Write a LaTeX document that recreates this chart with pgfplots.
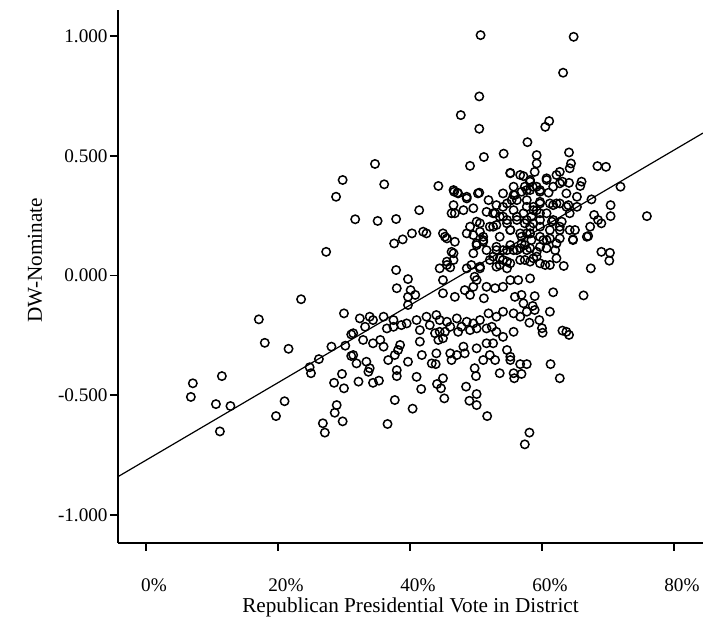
\documentclass[border=0pt]{standalone}
\usepackage{fontspec}
\setmainfont{Liberation Serif}
\usepackage{pgfplots}
\usepackage{pgfplotstable}
\pgfplotsset{compat=1.18}
\usetikzlibrary{calc}

% districts: Republican presidential vote (%) vs DW-Nominate score
\pgfplotstableread{
x y
27.3 0.099
23.5 -0.099
30.0 -0.158
17.1 -0.183
18.0 -0.281
21.6 -0.306
31.1 -0.246
28.1 -0.297
30.2 -0.293
26.2 -0.349
24.8 -0.383
25.0 -0.408
7.1 -0.450
6.8 -0.507
11.5 -0.420
10.6 -0.537
12.8 -0.545
11.2 -0.651
21.0 -0.525
19.7 -0.587
29.7 -0.411
28.5 -0.448
30.0 -0.471
28.9 -0.541
28.6 -0.573
26.8 -0.617
27.1 -0.656
29.8 -0.609
31.1 -0.336
29.8 0.399
28.8 0.329
50.7 1.004
50.5 0.748
47.7 0.670
50.5 0.613
57.8 0.557
54.2 0.509
51.2 0.495
49.1 0.458
34.7 0.466
36.1 0.381
44.3 0.374
46.7 0.350
47.2 0.346
50.5 0.346
55.2 0.429
56.7 0.420
57.2 0.415
59.2 0.503
58.9 0.433
59.2 0.468
58.2 0.392
58.6 0.371
55.7 0.336
56.9 0.350
57.7 0.357
48.6 0.329
64.8 0.997
63.2 0.847
61.1 0.645
60.5 0.621
64.1 0.514
64.4 0.468
64.2 0.448
68.4 0.457
69.7 0.454
71.9 0.371
62.7 0.433
62.2 0.420
60.7 0.406
63.1 0.392
64.1 0.387
66.0 0.392
65.8 0.374
59.2 0.371
59.7 0.350
61.0 0.346
63.7 0.343
65.3 0.329
67.5 0.318
70.4 0.294
70.4 0.248
75.9 0.248
67.3 0.204
67.0 0.165
67.9 0.253
68.5 0.232
69.0 0.218
65.0 0.190
64.7 0.151
69.0 0.099
70.3 0.095
70.2 0.062
67.4 0.030
63.3 0.040
58.2 -0.012
61.7 -0.070
66.3 -0.083
58.9 -0.086
57.2 -0.116
58.6 -0.127
57.7 -0.151
61.2 -0.151
58.1 -0.197
59.6 -0.186
60.0 -0.220
60.1 -0.239
63.1 -0.230
63.7 -0.235
64.1 -0.248
57.7 -0.370
61.3 -0.370
62.7 -0.429
56.9 -0.411
58.1 -0.656
57.4 -0.705
57.2 0.260
57.4 0.218
57.7 0.176
56.9 0.134
58.2 0.114
58.7 0.072
57.4 0.065
59.7 0.120
60.2 0.148
61.2 0.155
62.0 0.106
62.2 0.072
62.7 0.155
60.5 0.044
59.2 0.079
61.2 0.190
62.7 0.190
59.7 0.204
58.2 0.204
60.7 0.260
61.7 0.294
62.7 0.301
64.0 0.294
64.2 0.260
63.0 0.225
59.7 0.308
61.7 0.371
58.7 0.273
58.4 0.148
61.5 0.225
32.2 -0.443
33.7 -0.402
33.9 -0.387
34.4 -0.448
35.3 -0.439
38.0 -0.395
38.0 -0.420
37.7 -0.520
36.6 -0.620
40.4 -0.556
41.7 -0.474
39.7 -0.360
36.7 -0.353
33.4 -0.360
31.9 -0.367
43.3 -0.367
43.9 -0.370
44.1 -0.453
44.7 -0.471
45.2 -0.513
48.5 -0.464
49.0 -0.523
50.1 -0.495
50.1 -0.541
49.8 -0.387
50.0 -0.420
51.7 -0.587
55.8 -0.429
56.7 -0.370
46.3 -0.353
52.9 -0.353
55.2 -0.353
46.6 0.294
46.8 0.260
48.1 0.273
49.6 0.281
31.7 0.235
35.1 0.228
37.9 0.236
41.4 0.273
37.6 0.134
38.9 0.151
40.3 0.176
42.0 0.183
42.5 0.176
45.0 0.176
45.6 0.155
46.8 0.141
48.6 0.176
49.6 0.169
50.6 0.183
51.1 0.141
50.1 0.127
46.3 0.099
46.6 0.065
45.6 0.058
44.5 0.030
46.1 0.034
37.9 0.023
39.7 -0.015
38.0 -0.053
40.1 -0.061
39.7 -0.089
40.8 -0.081
39.7 -0.123
45.0 -0.019
45.0 -0.074
46.8 -0.089
48.6 0.030
49.3 0.044
49.8 -0.005
50.1 -0.019
50.6 0.037
48.3 -0.061
49.6 -0.047
49.1 -0.081
51.2 -0.095
51.6 -0.047
52.9 -0.053
54.1 -0.047
55.2 -0.019
53.1 0.037
54.1 0.065
54.7 0.030
55.7 0.106
56.4 -0.019
55.9 -0.089
56.9 -0.081
50.6 0.218
51.1 0.162
52.1 0.204
53.1 0.211
53.6 0.246
54.7 0.218
55.2 0.190
56.2 0.232
58.4 0.246
59.7 0.260
56.9 0.162
53.1 0.120
54.1 0.106
55.2 0.127
56.7 0.114
52.6 0.079
53.6 0.072
54.7 0.058
55.7 0.273
54.7 0.301
56.2 0.315
54.1 0.343
55.7 0.371
57.4 0.371
52.6 0.260
51.6 0.266
51.9 0.315
53.1 0.294
50.1 0.225
49.1 0.204
57.7 0.315
58.7 0.287
58.2 0.176
57.4 0.127
32.4 -0.179
33.9 -0.172
34.4 -0.186
36.0 -0.172
37.5 -0.186
38.7 -0.207
39.5 -0.200
41.0 -0.186
42.5 -0.172
44.0 -0.165
44.5 -0.186
45.6 -0.193
47.1 -0.179
48.6 -0.193
49.6 -0.200
50.6 -0.186
51.9 -0.158
53.1 -0.172
54.1 -0.151
55.7 -0.158
56.7 -0.172
58.9 -0.144
33.2 -0.214
31.4 -0.241
32.9 -0.269
34.4 -0.283
35.5 -0.269
36.5 -0.221
37.5 -0.214
41.5 -0.228
43.0 -0.207
43.8 -0.241
44.3 -0.269
45.0 -0.262
44.5 -0.235
45.3 -0.235
46.1 -0.214
47.3 -0.235
47.8 -0.214
49.1 -0.228
50.1 -0.221
51.6 -0.221
52.4 -0.214
53.1 -0.235
54.1 -0.256
55.7 -0.235
36.0 -0.297
38.5 -0.290
38.2 -0.311
37.7 -0.332
41.5 -0.276
44.0 -0.325
46.1 -0.325
47.1 -0.332
48.1 -0.297
48.3 -0.325
50.1 -0.304
51.6 -0.283
52.6 -0.283
54.7 -0.311
55.2 -0.339
31.4 -0.332
41.8 -0.332
51.1 -0.353
52.1 -0.332
53.6 -0.408
55.7 -0.408
41.0 -0.423
45.0 -0.429
46.6 0.357
47.3 0.343
48.6 0.322
50.3 0.343
46.3 0.260
52.9 0.260
54.1 0.246
55.4 0.315
55.9 0.336
58.2 0.357
59.7 0.357
59.7 0.301
61.2 0.301
62.2 0.301
63.7 0.287
65.3 0.287
62.7 0.385
60.7 0.399
58.2 0.399
55.2 0.427
54.7 0.232
56.2 0.246
57.7 0.232
58.7 0.218
59.7 0.232
61.7 0.232
62.7 0.204
64.2 0.190
64.7 0.148
66.8 0.162
52.6 0.204
53.6 0.162
55.2 0.190
56.7 0.176
58.2 0.176
59.7 0.162
60.7 0.148
62.2 0.134
51.1 0.148
50.1 0.134
49.6 0.093
51.6 0.106
53.1 0.106
54.7 0.106
56.2 0.106
57.7 0.106
59.2 0.099
60.7 0.114
52.1 0.065
53.6 0.044
55.2 0.051
56.7 0.065
58.2 0.058
59.7 0.051
61.2 0.044
50.6 0.030
46.6 0.093
45.3 0.162
45.6 0.044
54.1 0.287
57.7 0.287
59.2 0.273
}\dwdata

\begin{document}
\begin{tikzpicture}
\begin{axis}[
  scale only axis,
  width=292.5pt, height=266.5pt,
  xmin=-4.24, xmax=84.4,
  ymin=-1.117, ymax=1.109,
  axis lines*=left,
  axis line style={line width=0.8pt},
  tick align=outside,
  major tick length=4pt,
  tick style={line width=0.8pt, black},
  xtick={0,20,40,60,80},
  ytick={-1,-0.5,0,0.5,1},
  xticklabel={\pgfmathprintnumber{\tick}\%},
  /pgf/number format/assume math mode=true,
  y tick label style={/pgf/number format/fixed, /pgf/number format/fixed zerofill, /pgf/number format/precision=3},
  ticklabel style={font=\fontsize{9.6}{11}\selectfont},
  yticklabel style={anchor=east, inner sep=0pt, xshift=-1pt},
  xticklabel style={anchor=center, inner sep=0pt, yshift=-17pt, xshift=4pt},
  xlabel={Republican Presidential Vote in District},
  ylabel={DW-Nominate},
  label style={font=\fontsize{10.6}{12}\selectfont},
  xlabel style={at={(axis description cs:0.5,-0.12)}, anchor=center},
  ylabel style={at={(axis description cs:-0.142,0.53)}, anchor=center},
]
\addplot[only marks, mark=o, mark size=2.1pt, mark options={line width=0.75pt, black}] table[x=x, y=y] {\dwdata};
\addplot[black, line width=0.6pt, no marks] coordinates {(-4.24,-0.84) (84.4,0.595)};
\end{axis}
\pgfresetboundingbox
\path[use as bounding box] ($(current axis.south west)+(-59pt,-41.5pt)$) rectangle ($(current axis.north east)+(0pt,5pt)$);
\end{tikzpicture}
\end{document}
